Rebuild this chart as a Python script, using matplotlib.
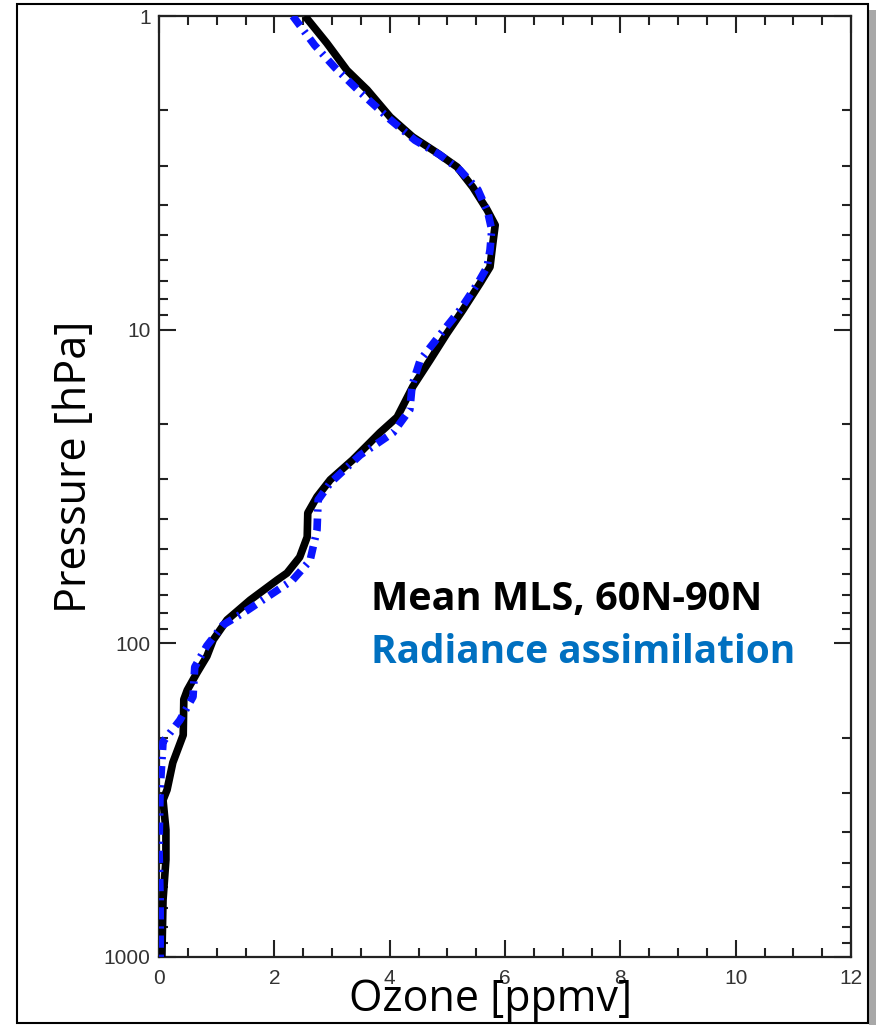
"""
Mean MLS ozone profile (60N-90N) vs radiance assimilation
"""

import matplotlib
matplotlib.use('Agg')
import matplotlib.pyplot as plt
from matplotlib.patches import Rectangle
from matplotlib.ticker import FixedLocator, MultipleLocator, LogLocator, NullFormatter

# ozone [ppmv] vs pressure [hPa]
mls_pressure = [1.0, 1.22, 1.49, 1.72, 2.10, 2.43, 2.73, 3.03, 3.51, 4.15, 4.64, 5.29,
                6.31, 7.10, 8.65, 10.3, 12.5, 15.2, 19.0, 21.3, 26.0, 30.1, 34.1, 38.4,
                45.8, 53.1, 59.7, 62.8, 72.8, 84.2, 97.5, 110, 124, 141, 151, 196, 240,
                293, 316, 393, 490, 658, 1000]
mls_ozone = [2.53, 2.91, 3.26, 3.61, 4.01, 4.40, 4.82, 5.17, 5.44, 5.69, 5.83, 5.79,
             5.74, 5.57, 5.27, 4.99, 4.70, 4.40, 4.13, 3.83, 3.36, 2.97, 2.74, 2.58,
             2.57, 2.44, 2.22, 2.05, 1.58, 1.18, 0.94, 0.83, 0.66, 0.49, 0.43, 0.42, 0.24,
             0.14, 0.07, 0.12, 0.12, 0.07, 0.05]

assim_pressure = [1.0, 1.24, 1.46, 1.75, 2.14, 2.49, 2.77, 3.10, 3.58, 4.21, 4.81, 5.57,
                  6.31, 7.10, 8.65, 10.4, 12.5, 15.0, 18.0, 21.3, 25.1, 30.8, 34.9, 43.5,
                  54.4, 62.8, 71.3, 78.5, 87.4, 101.8, 119, 148, 176, 206, 292, 444, 658,
                  1000]
assim_ozone = [2.32, 2.70, 3.05, 3.49, 4.01, 4.44, 4.87, 5.22, 5.53, 5.70, 5.77, 5.74,
               5.69, 5.53, 5.22, 4.87, 4.53, 4.39, 4.35, 4.06, 3.49, 2.97, 2.76, 2.74,
               2.62, 2.32, 1.87, 1.53, 1.11, 0.83, 0.62, 0.59, 0.36, 0.07, 0.02, 0.0, 0.02,
               0.02]

x_ticks = [0, 2, 4, 6, 8, 10, 12]
y_ticks = [1, 10, 100, 1000]


def create_plot():
    fig = plt.figure(figsize=(8.76, 10.25), dpi=100)
    ax = fig.add_axes([159 / 876, 1 - 957 / 1025, (851 - 159) / 876, (957 - 16) / 1025])

    ax.plot(mls_ozone, mls_pressure, color='black', lw=5.5, solid_capstyle='butt', zorder=3)
    ax.plot(assim_ozone, assim_pressure, color='#0a14ff', lw=5.5, zorder=4,
            linestyle=(0, (1.6, 0.9, 0.3, 0.9)), dash_capstyle='butt')

    ax.set_yscale('log')
    ax.set_ylim(1000, 1)
    ax.set_xlim(0, 12)

    ax.xaxis.set_major_locator(FixedLocator(x_ticks))
    ax.xaxis.set_minor_locator(MultipleLocator(0.5))
    ax.yaxis.set_major_locator(FixedLocator(y_ticks))
    ax.yaxis.set_minor_locator(LogLocator(base=10, subs=range(2, 10)))
    ax.yaxis.set_minor_formatter(NullFormatter())
    ax.set_yticklabels([str(v) for v in y_ticks])

    for side in ax.spines.values():
        side.set_linewidth(1.6)
        side.set_color('#222222')

    ax.tick_params(which='both', direction='in', top=True, right=True, color='#222222',
                   width=1.5, labelsize=15, labelcolor='#333333')
    ax.tick_params(which='major', length=12)
    ax.tick_params(which='minor', length=6.5)
    ax.tick_params(axis='x', pad=9)
    ax.tick_params(axis='y', pad=6)
    for lab in ax.get_xticklabels() + ax.get_yticklabels():
        lab.set_family('Liberation Sans')

    fig.text(75 / 876, 1 - 467 / 1025, 'Pressure [hPa]', rotation=90, fontsize=31,
             family='Open Sans', ha='center', va='center')
    fig.text(491 / 876, 1 - 1000 / 1025, 'Ozone [ppmv]', fontsize=31,
             family='Open Sans', ha='center', va='center', zorder=10)

    fig.text(371 / 876, 1 - 610 / 1025, 'Mean MLS, 60N-90N', fontsize=28.5,
             family='Open Sans', weight='bold', color='black', ha='left', va='baseline')
    fig.text(371 / 876, 1 - 663 / 1025, 'Radiance assimilation', fontsize=28,
             family='Open Sans', weight='bold', color='#0070c0', ha='left', va='baseline')

    # outer frame with a small shadow on the right
    fig.add_artist(Rectangle((869 / 876, 0), 7 / 876, 1 - 10 / 1025,
                             transform=fig.transFigure, color='#a8a8a8', lw=0))
    fig.add_artist(Rectangle((17 / 876, 2 / 1025), (868 - 17) / 876, (1023 - 4) / 1025,
                             transform=fig.transFigure, fill=False, ec='black', lw=1.5))

    fig.savefig('out.png', dpi=100)


if __name__ == '__main__':
    create_plot()
